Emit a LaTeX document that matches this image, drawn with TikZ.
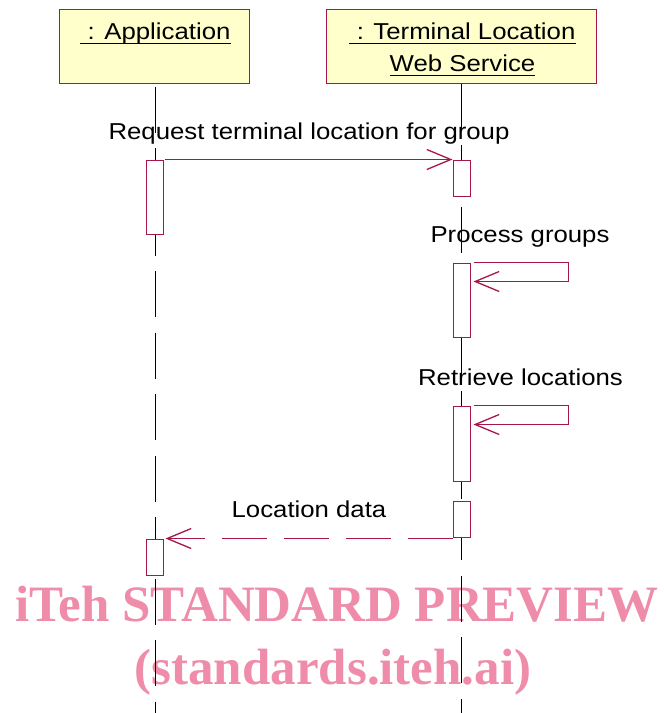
\documentclass[tikz,border=0pt]{standalone}
\usepackage{fontspec}
\setmainfont{Liberation Sans}[FakeStretch=1.12]
\newfontfamily\wmfont{Liberation Serif}
\usetikzlibrary{arrows.meta,calc}
\definecolor{umlred}{RGB}{165,22,75}
\definecolor{umlyellow}{RGB}{255,255,204}
\definecolor{wmpink}{RGB}{238,140,170}
\tikzset{
  objbox/.style={draw=umlred,fill=umlyellow,line width=1pt,minimum height=74pt,inner sep=0pt},
  actbox/.style={draw=umlred,fill=white,line width=1pt,minimum width=17pt,inner sep=0pt},
  lifeline/.style={draw=black,line width=0.9pt,dash pattern=on 46pt off 15.5pt},
  msg/.style={draw=umlred,line width=1pt,-{Straight Barb[length=24pt,width=20pt,line width=1.3pt]}},
  retmsg/.style={msg,dash pattern=on 45pt off 17pt},
  lbl/.style={anchor=base,inner sep=0pt,font=\fontsize{23}{32}\selectfont,text=black},
  ttl/.style={anchor=base,inner sep=0pt,font=\fontsize{23}{32}\selectfont,text=black},
  uline/.style={draw=black,line width=1pt},
  wm/.style={anchor=base,inner sep=0pt,text=wmpink,font=\wmfont\bfseries\fontsize{51}{60}\selectfont}
}
\begin{document}
\begin{tikzpicture}[x=1pt,y=-1pt]
\useasboundingbox (0,0) rectangle (664,713);
% watermark
\node[wm] (wm1) at (337,621) {iTeh STANDARD PREVIEW};
\node[wm] (wm2) at (333,684) {(standards.iteh.ai)};
% objects
\node[objbox,minimum width=190pt] (app) at (154,46) {};
\node[objbox,minimum width=270pt] (tlws) at (461,46) {};
\node[ttl] (t1) at (155.5,39) {\ : Application};
\node[ttl] (t2) at (462.5,39) {\ : Terminal Location\ };
\node[ttl] (t3) at (462.5,71) {Web Service};
\draw[uline] ($(t1.base west)+(0,4)$) -- ($(t1.base east)+(0,4)$);
\draw[uline] ($(t2.base west)+(0,4)$) -- ($(t2.base east)+(0,4)$);
\draw[uline] ($(t3.base west)+(0,4)$) -- ($(t3.base east)+(0,4)$);
% lifelines
\coordinate (append) at (155,713);
\coordinate (tlwsend) at (461.5,713);
\draw[lifeline] ($(app.south)+(1,3)$) -- (append);
\draw[lifeline] ($(tlws.south)+(0.5,0)$) -- (tlwsend);
% activations
\node[actbox,minimum height=74pt] (aL1) at (154.5,197) {};
\node[actbox,minimum height=36pt] (aR1) at (461.5,178) {};
\node[actbox,minimum height=74pt] (aR2) at (461.5,300) {};
\node[actbox,minimum height=75pt] (aR3) at (461.5,443.5) {};
\node[actbox,minimum height=36pt] (aR4) at (461.5,519) {};
\node[actbox,minimum height=36pt] (aL2) at (154.5,557) {};
% messages
\draw[msg] ($(aL1.north east)+(1,0)$) -- (aR1.north west);
\draw[msg] ($(aR2.north east)+(3,0)$) -- ++(95,0) -- ++(0,19) -- ($(aR2.north east)+(3,19)$);
\draw[msg] ($(aR3.north east)+(3,0)$) -- ++(95,0) -- ++(0,19) -- ($(aR3.north east)+(3,19)$);
\draw[retmsg] (aR4.west |- aL2.north) -- ($(aL2.north east)+(2,0)$);
% labels
\node[lbl] (l1) at (309,139) {Request terminal location for group};
\node[lbl] (l2) at (520,242) {Process groups};
\node[lbl] (l3) at (520.5,385) {Retrieve locations};
\node[lbl] (l4) at (309,517) {Location data};
\end{tikzpicture}
\end{document}
